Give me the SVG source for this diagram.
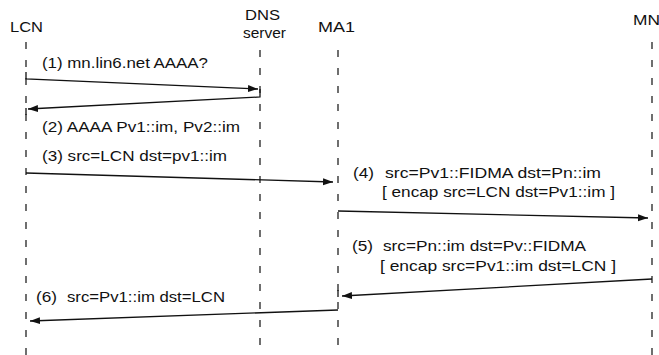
<svg xmlns="http://www.w3.org/2000/svg" width="659" height="355" viewBox="0 0 659 355">
<defs>
<marker id="ah" markerWidth="11" markerHeight="8" refX="10" refY="3.5" orient="auto" markerUnits="userSpaceOnUse">
<path d="M0,0 L10,3.5 L0,7 z" fill="#111"/>
</marker>
<style>
.lbl{font-family:"Liberation Sans",Arial,sans-serif;font-size:15px;fill:#111}
.life{stroke:#222;stroke-width:1.3;stroke-dasharray:7 11;fill:none}
.msg{stroke:#111;stroke-width:1.3;fill:none}
.arr{marker-end:url(#ah)}
</style>
</defs>
<rect width="659" height="355" fill="#fff"/>
<g id="node-LCN">
<text class="lbl" x="10" y="32" textLength="33" lengthAdjust="spacingAndGlyphs">LCN</text>
<line class="life" x1="26" y1="42" x2="26" y2="355"/>
</g>
<g id="node-DNS">
<text class="lbl" x="245" y="20" textLength="35" lengthAdjust="spacingAndGlyphs">DNS</text>
<text class="lbl" x="243" y="38" textLength="43" lengthAdjust="spacingAndGlyphs">server</text>
<line class="life" x1="260" y1="50" x2="260" y2="355"/>
</g>
<g id="node-MA1">
<text class="lbl" x="318" y="32" textLength="37" lengthAdjust="spacingAndGlyphs">MA1</text>
<line class="life" x1="338" y1="50" x2="338" y2="355"/>
</g>
<g id="node-MN">
<text class="lbl" x="633" y="25" textLength="27" lengthAdjust="spacingAndGlyphs">MN</text>
<line class="life" x1="652" y1="42" x2="652" y2="355"/>
</g>
<g id="connectors">
<polyline class="msg arr" points="26,72 26,79 258,89"/>
<polyline class="msg arr" points="260,89 260,97 28,109"/>
<line class="msg" x1="26" y1="108" x2="26" y2="115"/>
<line class="msg arr" x1="26" y1="173" x2="333" y2="182"/>
<line class="msg arr" x1="338" y1="211" x2="648" y2="218"/>
<line class="msg arr" x1="652" y1="279" x2="342" y2="296"/>
<line class="msg" x1="338" y1="290" x2="338" y2="297"/>
<line class="msg arr" x1="338" y1="310" x2="30" y2="321"/>
</g>
<g id="labels">
<text class="lbl" x="42" y="68" textLength="166" lengthAdjust="spacingAndGlyphs">(1) mn.lin6.net AAAA?</text>
<text class="lbl" x="42" y="132" textLength="198" lengthAdjust="spacingAndGlyphs">(2) AAAA Pv1::im, Pv2::im</text>
<text class="lbl" x="42" y="161" textLength="185" lengthAdjust="spacingAndGlyphs">(3) src=LCN dst=pv1::im</text>
<text class="lbl" x="353" y="178" textLength="21" lengthAdjust="spacingAndGlyphs">(4)</text>
<text class="lbl" x="385" y="178" textLength="216" lengthAdjust="spacingAndGlyphs">src=Pv1::FIDMA dst=Pn::im</text>
<text class="lbl" x="382" y="197" textLength="233" lengthAdjust="spacingAndGlyphs">[ encap src=LCN dst=Pv1::im ]</text>
<text class="lbl" x="352" y="251" textLength="21" lengthAdjust="spacingAndGlyphs">(5)</text>
<text class="lbl" x="383" y="251" textLength="203" lengthAdjust="spacingAndGlyphs">src=Pn::im dst=Pv::FIDMA</text>
<text class="lbl" x="380" y="271" textLength="236" lengthAdjust="spacingAndGlyphs">[ encap src=Pv1::im dst=LCN ]</text>
<text class="lbl" x="36" y="302" textLength="21" lengthAdjust="spacingAndGlyphs">(6)</text>
<text class="lbl" x="67" y="302" textLength="158" lengthAdjust="spacingAndGlyphs">src=Pv1::im dst=LCN</text>
</g>
</svg>
